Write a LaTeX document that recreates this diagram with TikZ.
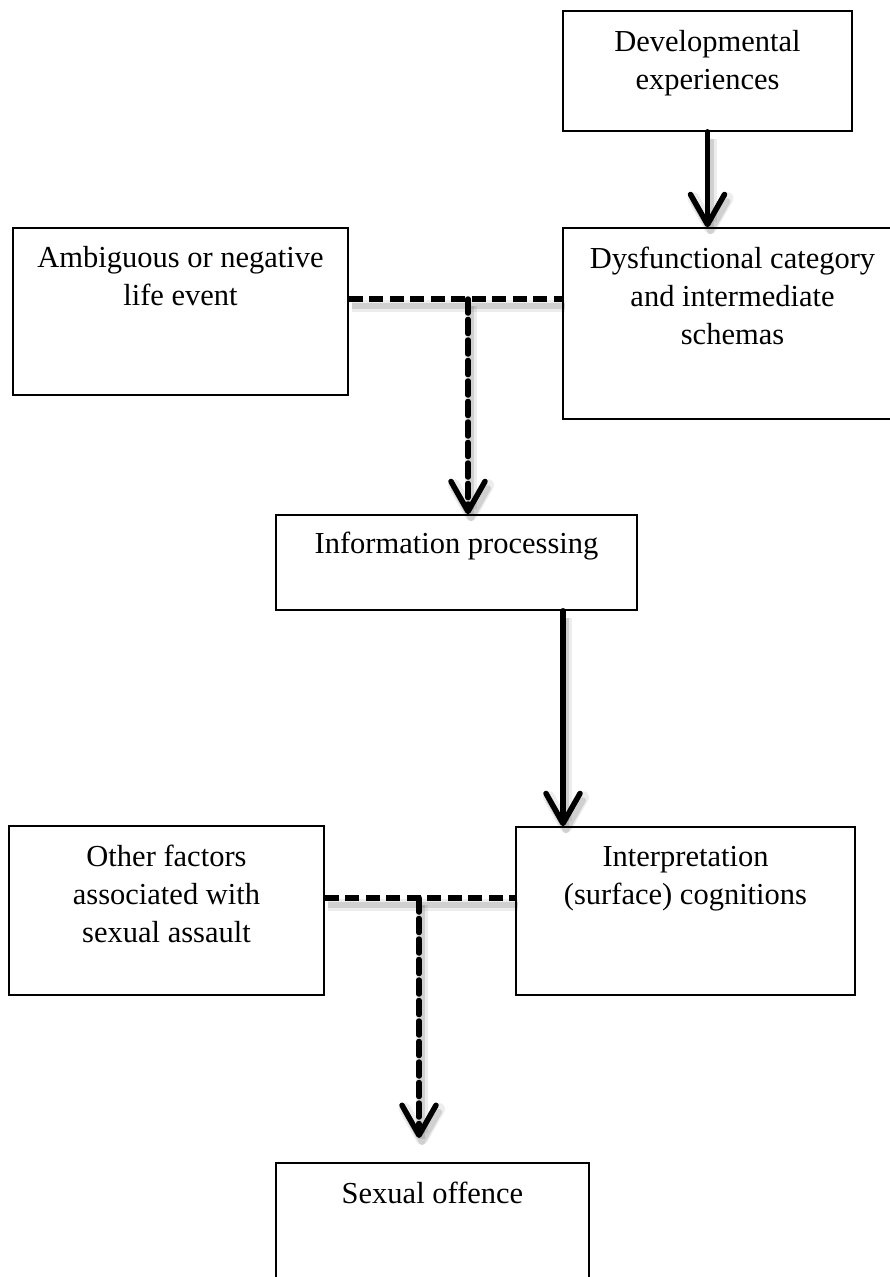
\documentclass[tikz,border=0pt]{standalone}
\usepackage{fontspec}
\setmainfont{Liberation Serif}
\usetikzlibrary{arrows.meta}
\begin{document}
\begin{tikzpicture}[x=1pt,y=-1pt,
  box/.style={draw=black, line width=1.6pt, inner sep=0pt, rectangle},
  lbl/.style={anchor=north, inner sep=0pt, align=center, font=\fontsize{30.5}{38}\selectfont},
  shad/.style={
    preaction={draw=black, opacity=0.07, line width=12pt, transform canvas={shift={(3pt,-7pt)}}},
    preaction={draw=black, opacity=0.12, line width=6pt, transform canvas={shift={(3pt,-7pt)}}}},
  conn/.style={line width=5.5pt, line cap=round, line join=round, -{Straight Barb[length=30pt, width=34pt, round]}},
  dconn/.style={line width=5.5pt, dash pattern=on 14pt off 6.5pt},
]
\useasboundingbox (0,0) rectangle (890,1277);
% boxes
\node[box, minimum width=289pt, minimum height=120pt] (b1) at (707.5,71) {};
\node[box, minimum width=339pt, minimum height=191pt] (b2) at (732.5,323.5) {};
\node[box, minimum width=335pt, minimum height=167pt] (b3) at (180.5,311.5) {};
\node[box, minimum width=361pt, minimum height=95pt] (b4) at (456.5,562.5) {};
\node[box, minimum width=339pt, minimum height=168pt] (b5) at (685.5,911) {};
\node[box, minimum width=315pt, minimum height=169pt] (b6) at (166.5,910.5) {};
\node[box, minimum width=313pt, minimum height=132pt] (b7) at (432.5,1229) {};
% labels
\node[lbl] (t1) at ([yshift=-20pt]b1.north) {Developmental\\experiences};
\node[lbl] (t2) at ([yshift=-20pt]b2.north) {Dysfunctional category\\and intermediate\\schemas};
\node[lbl] (t3) at ([yshift=-19pt]b3.north) {Ambiguous or negative\\life event};
\node[lbl] (t4) at ([yshift=-18pt]b4.north) {Information processing};
\node[lbl] (t5) at ([yshift=-20pt]b5.north) {Interpretation\\(surface) cognitions};
\node[lbl] (t6) at ([yshift=-20pt]b6.north) {Other factors\\associated with\\sexual assault};
\node[lbl] (t7) at ([yshift=-20pt]b7.north) {Sexual offence};
% junctions
\coordinate (j1) at (468,299);
\coordinate (j2) at (419,898);
\coordinate (e7) at (419,1138);
\coordinate (s4) at (563,0);
% connectors
\draw[conn, shad] (b1.south) -- (b2.north -| b1.south);
\draw[dconn, shad] (b3.east |- j1) -- (b2.west |- j1);
\draw[dconn, conn, shad] (j1) -- (b4.north -| j1);
\draw[conn, shad] (b4.south -| s4) -- (b5.north -| s4);
\draw[dconn, shad] (b6.east |- j2) -- (b5.west |- j2);
\draw[dconn, conn, shad] (j2) -- (e7);
\end{tikzpicture}
\end{document}
